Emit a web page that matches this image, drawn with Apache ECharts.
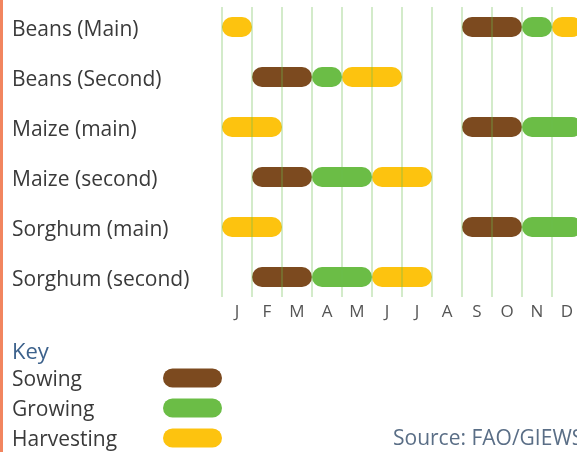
<!DOCTYPE html>
<html>
<head>
<meta charset="utf-8">
<script src="https://cdn.jsdelivr.net/npm/echarts@6/dist/echarts.min.js"></script>
<style>
  html, body { margin: 0; padding: 0; background: #fff; }
  #chart { width: 577px; height: 452px; }
</style>
</head>
<body>
<div id="chart"></div>
<script>
// crops, top to bottom
var crops = ['Beans (Main)', 'Beans (Second)', 'Maize (main)', 'Maize (second)', 'Sorghum (main)', 'Sorghum (second)'];
var months = ['J', 'F', 'M', 'A', 'M', 'J', 'J', 'A', 'S', 'O', 'N', 'D'];

// [crop index, start month, end month] (months counted from 0 = Jan)
var sowing = [[0, 8, 10], [1, 1, 3], [2, 8, 10], [3, 1, 3], [4, 8, 10], [5, 1, 3]];
var growing = [[0, 10, 11], [1, 3, 4], [2, 10, 12], [3, 3, 5], [4, 10, 12], [5, 3, 5]];
var harvesting = [[0, 0, 1], [0, 11, 12], [1, 4, 6], [2, 0, 2], [3, 5, 7], [4, 0, 2], [5, 5, 7]];

var colors = { Sowing: '#7c4a1f', Growing: '#6bbd46', Harvesting: '#fdc30f' };
var font = 'Open Sans';

// capsule from start to end month on the crop's row
function renderPill(params, api) {
  var row = api.value(0);
  var p0 = api.coord([api.value(1), row]);
  var p1 = api.coord([api.value(2), row]);
  var h = 20;
  return {
    type: 'rect',
    shape: { x: p0[0], y: p0[1] - h / 2, width: p1[0] - p0[0], height: h, r: h / 2 },
    style: { fill: api.visual('color') }
  };
}

function stageSeries(name, data) {
  return {
    name: name,
    type: 'custom',
    xAxisIndex: 2,
    yAxisIndex: 1,
    z: -1,
    color: colors[name],
    renderItem: renderPill,
    encode: { x: [1, 2], y: 0 },
    data: data
  };
}

var pill = 'path://M9.5,0H49.5A9.5,9.5,0,0,1,49.5,19H9.5A9.5,9.5,0,0,1,9.5,0Z';

var chart = echarts.init(document.getElementById('chart'));
chart.setOption({
  animation: false,
  textStyle: { fontFamily: font },
  title: [
    { text: 'Key', left: 12, top: 342, padding: 0,
      textStyle: { fontFamily: font, fontSize: 22, fontWeight: 'normal', color: '#3d628c' } },
    { text: 'Source: FAO/GIEWS', left: 393, top: 429, padding: 0,
      textStyle: { fontFamily: font, fontSize: 21, fontWeight: 'normal', color: '#5a6e86' } }
  ],
  legend: {
    orient: 'vertical',
    left: 12,
    top: 365,
    height: 100,
    align: 'right',
    itemWidth: 59,
    itemHeight: 19,
    itemGap: 4,
    padding: 0,
    selectedMode: false,
    formatter: '{t|{name}}',
    textStyle: {
      fontFamily: font, fontSize: 21, color: '#3a3a3a',
      rich: { t: { width: 146, align: 'left', fontFamily: font, fontSize: 21, lineHeight: 20,
        color: '#3a3a3a', padding: [5, 0, 0, 0] } }
    },
    data: [
      { name: 'Sowing', icon: pill },
      { name: 'Growing', icon: pill },
      { name: 'Harvesting', icon: pill }
    ]
  },
  graphic: [
    { type: 'rect', left: 0, top: 0, shape: { width: 3, height: 452 }, style: { fill: '#f2855f' } }
  ],
  grid: [
    { left: 222, width: 360, top: 7, height: 290, outerBoundsMode: 'none' },
    { left: 222, width: 360, top: 2, height: 300, outerBoundsMode: 'none' }
  ],
  xAxis: [
    { type: 'value', gridIndex: 0, min: 0, max: 12, interval: 1,
      axisLine: { show: false }, axisTick: { show: false }, axisLabel: { show: false },
      splitLine: { show: true, lineStyle: { color: 'rgba(110,190,80,0.3)', width: 2 } } },
    { type: 'category', gridIndex: 0, data: months, position: 'bottom',
      axisLine: { show: false }, axisTick: { show: false }, splitLine: { show: false },
      axisLabel: { interval: 0, margin: 7, fontFamily: font, fontSize: 17, color: '#555' } },
    { type: 'value', gridIndex: 1, min: 0, max: 12, show: false }
  ],
  yAxis: [
    { type: 'value', gridIndex: 0, show: false },
    { type: 'category', gridIndex: 1, data: crops, inverse: true,
      axisLine: { show: false }, axisTick: { show: false }, splitLine: { show: false },
      axisLabel: { align: 'left', margin: 210,
        formatter: function (v) { return '{c|' + v + '}'; },
        rich: { c: { fontFamily: font, fontSize: 21, lineHeight: 22, color: '#3a3a3a', padding: [7, 0, 0, 0] } } } }
  ],
  series: [
    stageSeries('Sowing', sowing),
    stageSeries('Growing', growing),
    stageSeries('Harvesting', harvesting)
  ]
});
</script>
</body>
</html>
